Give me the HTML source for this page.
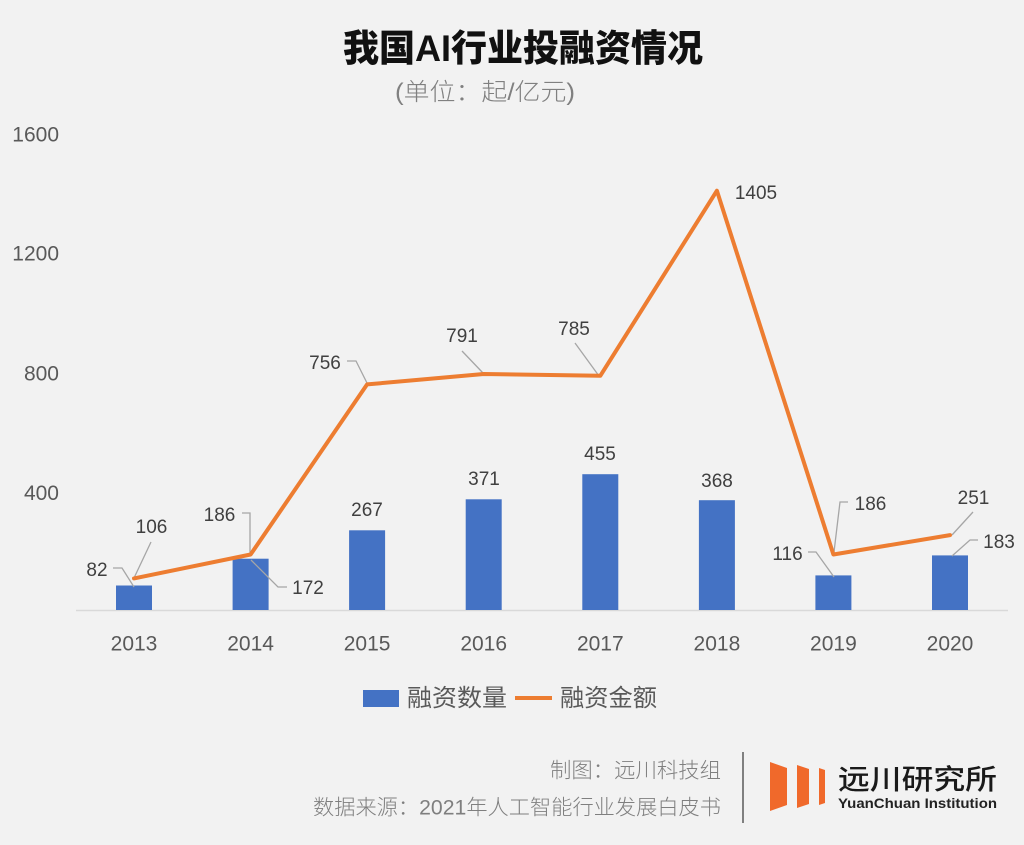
<!DOCTYPE html>
<html><head><meta charset="utf-8"><style>
html,body{margin:0;padding:0;background:#f2f2f2;}
svg{display:block;}
.cj{font-family:"Liberation Sans","Noto Sans CJK SC",sans-serif;}
.num{font-family:"Liberation Sans",sans-serif;}
</style></head><body>
<svg width="1024" height="845" viewBox="0 0 1024 845" xmlns="http://www.w3.org/2000/svg">
<rect x="0" y="0" width="1024" height="845" fill="#f2f2f2"/>
<!-- title -->
<text class="cj" x="343" y="61" font-size="37" font-weight="900" fill="#111" textLength="360" lengthAdjust="spacingAndGlyphs">我国AI行业投融资情况</text>
<text class="cj" x="395" y="100" font-size="24" font-weight="300" fill="#808080" textLength="180" lengthAdjust="spacingAndGlyphs">(单位：起/亿元)</text>

<!-- y axis labels -->
<g class="num" font-size="21" fill="#595959" text-anchor="end">
<text x="59" y="141.5">1600</text>
<text x="59" y="260.5">1200</text>
<text x="59" y="380.5">800</text>
<text x="59" y="500">400</text>
</g>

<!-- baseline -->
<line x1="76" y1="610.5" x2="1008" y2="610.5" stroke="#d9d9d9" stroke-width="1.5"/>

<!-- bars -->
<g fill="#4472C4">
<rect x="116" y="585.5" width="36" height="24.5"/>
<rect x="232.6" y="558.7" width="36" height="51.3"/>
<rect x="349.1" y="530.3" width="36" height="79.7"/>
<rect x="465.7" y="499.3" width="36" height="110.7"/>
<rect x="582.3" y="474.2" width="36" height="135.8"/>
<rect x="698.9" y="500.2" width="36" height="109.8"/>
<rect x="815.4" y="575.4" width="36" height="34.6"/>
<rect x="932" y="555.4" width="36" height="54.6"/>
</g>

<!-- leader lines -->
<g fill="none" stroke="#a6a6a6" stroke-width="1.3">
<polyline points="113,568 122,568 134,587"/>
<polyline points="151,542 134,578"/>
<polyline points="242,513 250,513 250,553"/>
<polyline points="287,587 278,587 251,560"/>
<polyline points="347,361 356,361 367,383"/>
<polyline points="462,351 483,373"/>
<polyline points="575,343 599,376"/>
<polyline points="808,552 816,552 834,577"/>
<polyline points="848,502 840,502 834,552"/>
<polyline points="973,512 952,535"/>
<polyline points="978,540 970,540 952,556"/>
</g>

<!-- line -->
<polyline fill="none" stroke="#ED7D31" stroke-width="4" stroke-linejoin="round" stroke-linecap="round"
points="134,578.4 250.6,554.5 367.1,384.4 483.7,374 600.3,375.8 716.9,190.7 833.4,554.5 950,535.1"/>

<!-- data labels -->
<g class="num" font-size="19" fill="#404040" text-anchor="middle">
<text x="97" y="576">82</text>
<text x="151.5" y="533">106</text>
<text x="219.5" y="521">186</text>
<text x="308" y="594">172</text>
<text x="367" y="516">267</text>
<text x="325" y="369">756</text>
<text x="462" y="342">791</text>
<text x="574" y="335">785</text>
<text x="484" y="485">371</text>
<text x="600" y="460">455</text>
<text x="717" y="487">368</text>
<text x="756" y="199">1405</text>
<text x="787.5" y="560">116</text>
<text x="870.5" y="510">186</text>
<text x="973.5" y="504">251</text>
<text x="999" y="548">183</text>
</g>

<!-- x labels -->
<g class="num" font-size="21" fill="#595959" text-anchor="middle">
<text x="134" y="650.5">2013</text>
<text x="250.6" y="650.5">2014</text>
<text x="367.1" y="650.5">2015</text>
<text x="483.7" y="650.5">2016</text>
<text x="600.3" y="650.5">2017</text>
<text x="716.9" y="650.5">2018</text>
<text x="833.4" y="650.5">2019</text>
<text x="950" y="650.5">2020</text>
</g>

<!-- legend -->
<rect x="363" y="690" width="36" height="17" fill="#4472C4"/>
<text class="cj" x="407" y="706" font-size="24" fill="#595959" textLength="100" lengthAdjust="spacingAndGlyphs">融资数量</text>
<line x1="515" y1="698" x2="552" y2="698" stroke="#ED7D31" stroke-width="4"/>
<text class="cj" x="560" y="706" font-size="24" fill="#595959" textLength="97" lengthAdjust="spacingAndGlyphs">融资金额</text>

<!-- footer -->
<text class="cj" x="550" y="777.5" font-size="21" font-weight="300" fill="#7f7f7f" textLength="171" lengthAdjust="spacingAndGlyphs">制图：远川科技组</text>
<text class="cj" x="313" y="814.5" font-size="21" font-weight="300" fill="#7f7f7f" textLength="408" lengthAdjust="spacingAndGlyphs">数据来源：2021年人工智能行业发展白皮书</text>
<line x1="743" y1="752" x2="743" y2="823" stroke="#808080" stroke-width="2"/>

<!-- logo -->
<g fill="#F0692B">
<polygon points="770,762 787,768 787,805 770,811"/>
<polygon points="797,765 809,769 809,804 797,808"/>
<polygon points="819,768 825,770 825,803 819,805"/>
</g>
<text class="cj" x="838" y="789" font-size="28" font-weight="500" fill="#1a1a1a" textLength="159" lengthAdjust="spacingAndGlyphs">远川研究所</text>
<text class="num" x="838" y="808" font-size="14" font-weight="700" fill="#222" textLength="159" lengthAdjust="spacingAndGlyphs">YuanChuan Institution</text>
</svg>
</body></html>
